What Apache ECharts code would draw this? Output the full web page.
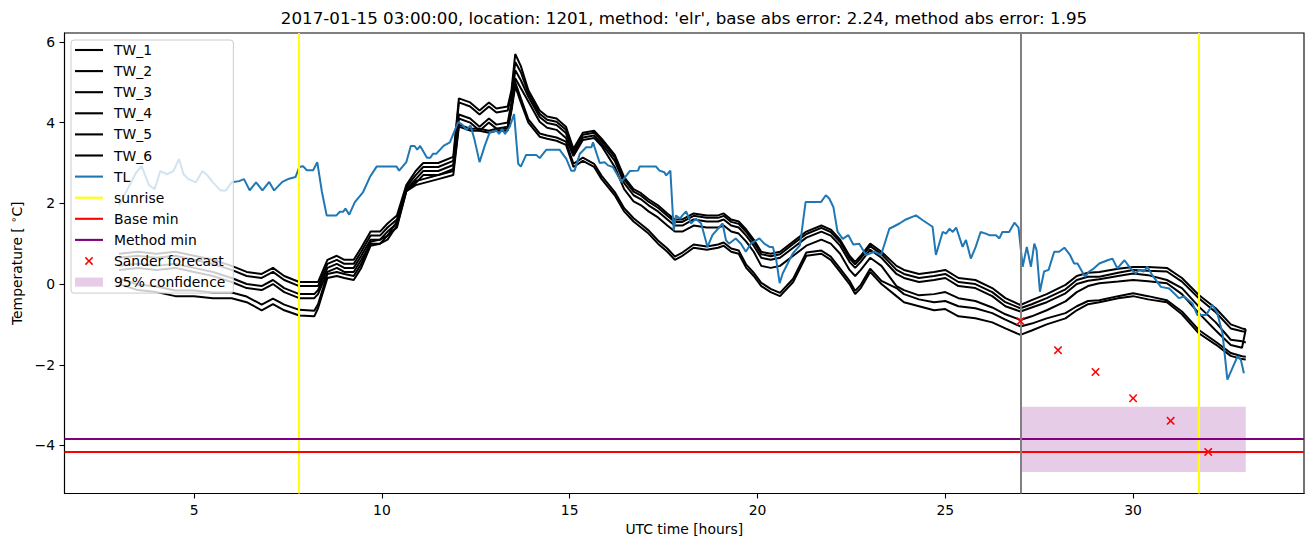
<!DOCTYPE html>
<html><head><meta charset="utf-8">
<script src="https://cdn.jsdelivr.net/npm/echarts@6/dist/echarts.min.js"></script>
<style>html,body{margin:0;padding:0;background:#fff}#c{width:1313px;height:547px}</style>
</head><body><div id="c"></div>
<script>
const titleText = "2017-01-15 03:00:00, location: 1201, method: 'elr', base abs error: 2.24, method abs error: 1.95";
const xTicks = [5, 10, 15, 20, 25, 30];
const yTicks = [-4, -2, 0, 2, 4, 6];

const twTime = [
  3.0, 3.5, 4.0, 4.5, 5.0, 5.5, 6.0, 6.4, 6.8, 7.1,
  7.4, 7.8, 8.2, 8.3, 8.55, 8.8, 9.0, 9.25, 9.45, 9.7,
  9.95, 10.15, 10.4, 10.65, 10.9, 11.1, 11.5, 11.9, 12.05, 12.35,
  12.6, 12.85, 13.05, 13.35, 13.45, 13.55, 13.7, 13.9, 14.2, 14.4,
  14.65, 14.9, 15.1, 15.35, 15.65, 15.85, 16.2, 16.45, 16.7, 16.9,
  17.1, 17.35, 17.6, 17.8, 18.0, 18.3, 18.65, 18.95, 19.1, 19.3,
  19.5, 19.7, 19.9, 20.1, 20.35, 20.6, 20.95, 21.3, 21.7, 21.95,
  22.2, 22.45, 22.6, 22.75, 23.0, 23.3, 23.7, 23.9, 24.3, 24.7,
  25.0, 25.35, 25.8, 26.25, 26.6, 27.0, 27.3, 27.7, 28.2, 28.5,
  28.8, 29.1, 29.6, 30.0, 30.4, 30.9, 31.3, 31.75, 32.2, 32.6,
  32.9, 33.0];

const tw1 = [
  0.75, 0.8, 0.75, 0.8, 0.7, 0.6, 0.45, 0.3, 0.25, 0.4,
  0.2, 0.05, 0.05, 0.05, 0.6, 0.7, 0.6, 0.6, 0.9, 1.3,
  1.3, 1.5, 1.7, 2.45, 2.8, 3.0, 3.0, 3.15, 4.6, 4.5,
  4.3, 4.5, 4.35, 4.4, 4.8, 5.7, 5.4, 4.8, 4.3, 4.15,
  4.1, 3.9, 3.35, 3.75, 3.8, 3.6, 3.2, 2.65, 2.35, 2.25,
  2.1, 1.95, 1.75, 1.6, 1.6, 1.75, 1.7, 1.7, 1.75, 1.6,
  1.55, 1.35, 1.1, 0.8, 0.75, 0.8, 1.05, 1.3, 1.45, 1.35,
  1.1, 0.7, 0.55, 0.7, 1.0, 0.8, 0.45, 0.35, 0.25, 0.3,
  0.35, 0.15, 0.1, -0.1, -0.35, -0.52, -0.4, -0.25, -0.02, 0.2,
  0.28, 0.3, 0.38, 0.42, 0.42, 0.4, 0.15, -0.27, -0.6, -1.0,
  -1.1, -1.12];
const tw2 = [
  0.65, 0.7, 0.65, 0.7, 0.6, 0.5, 0.35, 0.2, 0.15, 0.3,
  0.1, -0.05, -0.05, -0.05, 0.5, 0.6, 0.5, 0.5, 0.8, 1.2,
  1.2, 1.4, 1.6, 2.4, 2.7, 2.9, 2.9, 3.05, 4.5, 4.4,
  4.2, 4.4, 4.25, 4.3, 4.7, 5.5, 5.25, 4.72, 4.22, 4.07,
  4.02, 3.82, 3.3, 3.7, 3.75, 3.55, 3.14, 2.59, 2.29, 2.19,
  2.04, 1.89, 1.69, 1.54, 1.54, 1.69, 1.64, 1.64, 1.69, 1.54,
  1.49, 1.29, 1.04, 0.74, 0.69, 0.74, 0.99, 1.24, 1.39, 1.29,
  1.04, 0.64, 0.49, 0.64, 0.94, 0.74, 0.35, 0.25, 0.15, 0.2,
  0.25, 0.05, 0.0, -0.2, -0.45, -0.6, -0.5, -0.35, -0.13, 0.1,
  0.18, 0.18, 0.28, 0.35, 0.33, 0.31, 0.06, -0.35, -0.7, -1.1,
  -1.17, -1.18];
const tw3 = [
  0.45, 0.5, 0.45, 0.5, 0.4, 0.3, 0.15, 0.0, -0.05, 0.1,
  -0.1, -0.25, -0.25, -0.15, 0.4, 0.5, 0.4, 0.4, 0.7, 1.1,
  1.1, 1.3, 1.5, 2.35, 2.6, 2.8, 2.8, 2.95, 4.2, 4.1,
  3.9, 4.1, 3.95, 4.0, 4.5, 5.3, 5.05, 4.64, 4.14, 3.99,
  3.94, 3.74, 3.23, 3.63, 3.68, 3.48, 3.05, 2.5, 2.2, 2.1,
  1.95, 1.8, 1.6, 1.45, 1.45, 1.6, 1.55, 1.55, 1.6, 1.45,
  1.4, 1.2, 0.95, 0.65, 0.6, 0.65, 0.9, 1.15, 1.3, 1.2,
  0.95, 0.55, 0.4, 0.55, 0.85, 0.65, 0.25, 0.15, 0.05, 0.1,
  0.15, -0.05, -0.1, -0.3, -0.55, -0.68, -0.58, -0.45, -0.23, 0.0,
  0.08, 0.12, 0.2, 0.26, 0.22, 0.1, -0.1, -0.56, -0.95, -1.38,
  -1.42, -1.45];
const tw4 = [
  0.35, 0.4, 0.35, 0.4, 0.3, 0.2, 0.05, -0.1, -0.15, 0.0,
  -0.2, -0.35, -0.35, -0.25, 0.3, 0.4, 0.3, 0.3, 0.6, 1.0,
  1.0, 1.2, 1.4, 2.3, 2.5, 2.7, 2.7, 2.85, 4.1, 4.0,
  3.8, 4.0, 3.85, 3.9, 4.4, 5.1, 4.85, 4.52, 4.02, 3.87,
  3.82, 3.62, 3.17, 3.57, 3.62, 3.42, 2.9, 2.35, 2.05, 1.95,
  1.8, 1.65, 1.45, 1.3, 1.3, 1.45, 1.4, 1.4, 1.45, 1.3,
  1.25, 1.05, 0.8, 0.45, 0.4, 0.45, 0.7, 0.95, 1.1, 1.0,
  0.75, 0.35, 0.2, 0.35, 0.65, 0.45, -0.05, -0.15, -0.28, -0.25,
  -0.2, -0.35, -0.42, -0.58, -0.75, -0.89, -0.8, -0.65, -0.43, -0.2,
  -0.05, 0.02, 0.06, 0.1, 0.07, 0.02, -0.25, -0.72, -1.15, -1.51,
  -1.58, -1.12];
const tw5 = [
  0.14, -0.01, -0.06, -0.16, -0.16, -0.21, -0.21, -0.31, -0.51, -0.36,
  -0.51, -0.64, -0.66, -0.5, 0.25, 0.3, 0.25, 0.2, 0.5, 1.05,
  1.1, 1.2, 1.55, 2.35, 2.55, 2.6, 2.7, 2.8, 3.95, 3.85,
  3.85, 3.8, 3.85, 3.85, 4.35, 5.0, 4.6, 4.08, 3.73, 3.68,
  3.63, 3.53, 2.98, 3.13, 2.98, 2.68, 2.28, 1.88, 1.63, 1.48,
  1.33, 1.08, 0.88, 0.68, 0.78, 0.98, 0.93, 0.98, 1.03, 0.88,
  0.83, 0.48, 0.28, 0.03, -0.12, -0.22, 0.13, 0.78, 0.83, 0.68,
  0.38, 0.08, -0.17, -0.02, 0.38, 0.08, -0.1, -0.25, -0.38, -0.45,
  -0.42, -0.55, -0.6, -0.72, -0.88, -1.05, -0.98, -0.85, -0.72, -0.55,
  -0.42, -0.4, -0.3, -0.23, -0.3, -0.4, -0.68, -1.14, -1.43, -1.71,
  -1.79, -1.8];
const tw6 = [
  0.0, -0.15, -0.2, -0.3, -0.3, -0.35, -0.35, -0.45, -0.65, -0.5,
  -0.65, -0.78, -0.8, -0.6, 0.15, 0.2, 0.15, 0.1, 0.4, 0.95,
  1.0, 1.1, 1.45, 2.3, 2.45, 2.5, 2.6, 2.7, 3.9, 3.8,
  3.8, 3.75, 3.8, 3.8, 4.3, 4.9, 4.5, 4.0, 3.65, 3.6,
  3.55, 3.45, 2.9, 3.05, 2.9, 2.6, 2.2, 1.8, 1.55, 1.4,
  1.25, 1.0, 0.8, 0.6, 0.7, 0.9, 0.85, 0.9, 0.95, 0.8,
  0.75, 0.4, 0.2, -0.05, -0.2, -0.3, 0.05, 0.7, 0.75, 0.6,
  0.3, 0.0, -0.25, -0.1, 0.3, 0.0, -0.3, -0.45, -0.55, -0.65,
  -0.62, -0.8, -0.85, -0.95, -1.1, -1.26, -1.15, -1.0, -0.85, -0.65,
  -0.5, -0.45, -0.35, -0.3, -0.38, -0.45, -0.75, -1.22, -1.5, -1.78,
  -1.86, -1.87];

const tlPoints = [
  [3.0,1.95],[3.2,2.3],[3.45,2.75],[3.6,2.92],[3.8,2.45],[3.95,2.35],[4.1,2.8],[4.28,2.72],[4.45,2.8],[4.6,3.1],
  [4.72,2.72],[4.85,2.6],[5.05,2.52],[5.22,2.8],[5.35,2.7],[5.5,2.52],[5.7,2.32],[5.85,2.32],[6.0,2.52],[6.2,2.55],
  [6.33,2.6],[6.48,2.32],[6.65,2.52],[6.82,2.32],[7.0,2.53],[7.13,2.32],[7.35,2.53],[7.53,2.61],[7.7,2.65],[7.8,2.9],
  [7.9,2.92],[8.0,2.82],[8.17,2.82],[8.28,3.02],[8.4,2.3],[8.53,1.7],[8.79,1.7],[8.88,1.79],[8.97,1.79],[9.03,1.87],
  [9.13,1.72],[9.28,2.03],[9.5,2.28],[9.68,2.65],[9.86,2.91],[10.39,2.91],[10.46,2.81],[10.65,3.02],[10.77,3.42],[10.87,3.42],
  [10.94,3.33],[11.02,3.42],[11.2,3.13],[11.29,3.13],[11.36,3.23],[11.45,3.23],[11.65,3.43],[11.81,3.51],[12.03,4.01],[12.14,3.95],
  [12.25,3.82],[12.36,3.93],[12.47,3.56],[12.6,3.02],[12.74,3.43],[12.87,3.76],[13.05,3.8],[13.12,3.72],[13.2,3.84],[13.28,3.72],
  [13.4,3.89],[13.52,4.21],[13.63,2.98],[13.7,2.91],[13.84,3.2],[14.11,3.2],[14.2,3.12],[14.38,3.33],[14.73,3.33],[14.91,3.1],
  [15.04,2.81],[15.13,2.81],[15.27,3.23],[15.44,3.39],[15.58,3.39],[15.62,3.51],[15.8,3.0],[15.93,3.02],[16.02,2.94],[16.15,2.9],
  [16.38,2.53],[16.6,2.8],[16.82,2.81],[16.86,2.91],[17.3,2.91],[17.39,2.81],[17.52,2.77],[17.57,2.69],[17.68,2.81],[17.77,1.33],
  [17.83,1.7],[17.94,1.62],[18.0,1.7],[18.1,1.8],[18.23,1.5],[18.36,1.62],[18.5,1.5],[18.67,0.92],[18.8,1.21],[19.07,1.5],
  [19.16,1.09],[19.24,1.0],[19.42,1.13],[19.56,1.0],[19.69,0.8],[19.82,1.0],[20.05,1.13],[20.18,1.0],[20.32,0.92],[20.41,0.92],
  [20.5,0.59],[20.59,0.02],[20.67,0.26],[20.94,0.76],[21.13,0.96],[21.28,2.03],[21.69,2.03],[21.82,2.2],[21.91,2.12],[22.02,1.91],
  [22.13,1.3],[22.27,1.12],[22.42,1.21],[22.55,0.98],[22.71,1.0],[22.89,0.72],[23.11,0.8],[23.29,0.72],[23.51,1.37],[23.78,1.5],
  [23.95,1.6],[24.22,1.7],[24.4,1.58],[24.66,1.42],[24.75,0.72],[24.93,1.29],[25.02,1.25],[25.11,1.37],[25.2,1.29],[25.29,1.4],
  [25.46,0.92],[25.55,1.09],[25.68,0.63],[25.81,0.92],[25.94,1.29],[26.08,1.25],[26.17,1.21],[26.35,1.21],[26.44,1.13],[26.52,1.29],
  [26.7,1.29],[26.84,1.52],[26.95,1.4],[27.06,0.43],[27.17,0.92],[27.28,0.43],[27.37,1.0],[27.43,0.84],[27.52,-0.19],[27.63,0.31],
  [27.75,0.35],[27.9,0.8],[28.03,0.8],[28.17,0.9],[28.32,0.72],[28.43,0.51],[28.52,0.51],[28.72,0.18],[28.83,0.31],[28.96,0.39],
  [29.1,0.51],[29.32,0.59],[29.45,0.63],[29.58,0.39],[29.77,0.59],[29.93,0.39],[30.07,0.26],[30.16,0.35],[30.29,0.31],[30.38,0.43],
  [30.51,0.22],[30.74,-0.07],[30.96,-0.11],[31.22,-0.35],[31.36,-0.31],[31.58,-0.48],[31.71,-0.77],[31.94,-0.77],[32.11,-0.52],[32.24,-0.72],
  [32.38,-1.22],[32.51,-2.37],[32.78,-1.79],[32.87,-1.88],[32.95,-2.21]];

const sunriseTimes = [7.79, 31.76];
const forecastTime = [27.0];
const baseMin = [-4.15];
const methodMin = [-3.84];
const sanderTime = [27, 28, 29, 30, 31, 32];
const sanderValues = [-0.92, -1.64, -2.18, -2.83, -3.39, -4.16];
const confTime = [27.0, 33.0];
const confRange = [-4.66, -3.04];

const FONT = 'DejaVu Sans';
const lineIcon = 'path://M0,0H28V2.1H0Z';
const xIcon = 'path://M0,0L0.01,0L0,0.01Z M28,14L27.99,14L28,13.99Z M9.85,3.95L10.95,2.85L14,5.9L17.05,2.85L18.15,3.95L15.1,7L18.15,10.05L17.05,11.15L14,8.1L10.95,11.15L9.85,10.05L12.9,7Z';
const xSymbol = 'path://M0,1.3L1.3,0L5,3.7L8.7,0L10,1.3L6.3,5L10,8.7L8.7,10L5,6.3L1.3,10L0,8.7L3.7,5Z';
const rectIcon = 'path://M0,0H28V9H0Z';

const twAll = [tw1, tw2, tw3, tw4, tw5, tw6];
const series = [];
twAll.forEach((arr, k) => {
  series.push({
    name: 'TW_' + (k + 1), type: 'line', showSymbol: false, symbol: 'none',
    data: twTime.map((t, i) => [t, arr[i]]),
    lineStyle: {color: '#000000', width: 2}, itemStyle: {color: '#000000'}, z: 2, silent: true
  });
});
series.push({
  name: 'TL', type: 'line', showSymbol: false, symbol: 'none', data: tlPoints,
  lineStyle: {color: '#1f77b4', width: 2}, itemStyle: {color: '#1f77b4'}, z: 3, silent: true
});
function mlSeries(name, color, items, z) {
  return {
    name: name, type: 'line', data: [], z: z, silent: true,
    itemStyle: {color: color}, lineStyle: {color: color, width: 2},
    markLine: {silent: true, symbol: ['none', 'none'], label: {show: false}, animation: false,
      lineStyle: {color: color, width: 2, type: 'solid'}, emphasis: {disabled: true}, data: items}
  };
}
series.push(mlSeries('sunrise', '#ffff00', sunriseTimes.map(v => ({xAxis: v})), 4));
series.push(mlSeries('Base min', '#ff0000', baseMin.map(v => ({yAxis: v})), 4));
series.push(mlSeries('Method min', '#800080', methodMin.map(v => ({yAxis: v})), 4));
series.push(mlSeries('forecast time', '#808080', forecastTime.map(v => ({xAxis: v})), 4));
series.push({
  name: 'Sander forecast', type: 'scatter', symbol: xSymbol, symbolSize: 8.5, z: 6, silent: true,
  data: sanderTime.map((t, i) => [t, sanderValues[i]]),
  itemStyle: {color: '#ff0000', opacity: 1}
});
series.push({
  name: '95% confidence', type: 'line', data: [], z: 1, silent: true,
  itemStyle: {color: 'rgba(128,0,128,0.2)'}, lineStyle: {color: 'rgba(128,0,128,0.2)'},
  markArea: {silent: true, itemStyle: {color: 'rgba(128,0,128,0.2)'}, label: {show: false},
    data: [[{xAxis: confTime[0], yAxis: confRange[1]}, {xAxis: confTime[1], yAxis: confRange[0]}]]}
});

const legendNames = ['TW_1','TW_2','TW_3','TW_4','TW_5','TW_6','TL','sunrise','Base min','Method min','Sander forecast','95% confidence'];
const legendData = legendNames.map(n => {
  let icon = lineIcon;
  if (n === 'Sander forecast') icon = xIcon;
  if (n === '95% confidence') icon = rectIcon;
  return {name: n, icon: icon};
});

const chart = echarts.init(document.getElementById('c'), null, {renderer: 'svg', width: 1313, height: 547});
chart.setOption({
  animation: false,
  backgroundColor: '#ffffff',
  textStyle: {fontFamily: FONT},
  grid: {left: 64.5, right: 9, top: 33, bottom: 53.5, show: true, borderColor: '#000', borderWidth: 1.1, backgroundColor: 'transparent'},
  graphic: [{
    type: 'text', x: 684, y: 18, silent: true,
    style: {text: titleText, font: '16.7px "DejaVu Sans"', fill: '#000', align: 'center', verticalAlign: 'middle'}
  }],
  legend: {
    data: legendData, orient: 'vertical', left: 71, top: 40, selectedMode: false,
    itemWidth: 28, itemHeight: 14, itemGap: 7.1, padding: [3, 8, 4, 4], symbolKeepAspect: true,
    backgroundColor: 'rgba(255,255,255,0.8)', borderColor: '#cccccc', borderWidth: 1, borderRadius: 3,
    itemStyle: {borderWidth: 0}, lineStyle: {width: 0},
    textStyle: {fontFamily: FONT, fontSize: 13.9, color: '#000', padding: [0, 0, 0, 6]}, z: 10
  },
  xAxis: {
    type: 'value', min: 1.55, max: 34.55,
    name: 'UTC time [hours]', nameLocation: 'middle', nameGap: 27,
    nameTextStyle: {fontFamily: FONT, fontSize: 13.9, color: '#000'},
    axisLine: {show: true, onZero: false, lineStyle: {color: '#000', width: 1.1}},
    axisTick: {show: true, length: 5, customValues: xTicks, lineStyle: {color: '#000', width: 1.1}},
    axisLabel: {customValues: xTicks, margin: 9.5, fontFamily: FONT, fontSize: 13.9, color: '#000'},
    splitLine: {show: false}
  },
  yAxis: {
    type: 'value', min: -5.19, max: 6.22,
    name: 'Temperature [ {sup|∘}C]', nameLocation: 'middle', nameGap: 37,
    nameTextStyle: {fontFamily: FONT, fontSize: 13.9, color: '#000',
      rich: {sup: {fontFamily: FONT, fontSize: 10, color: '#000', verticalAlign: 'top', padding: [0, 0, 6, 0]}}},
    axisLine: {show: true, onZero: false, lineStyle: {color: '#000', width: 1.1}},
    axisTick: {show: true, length: 5, customValues: yTicks, lineStyle: {color: '#000', width: 1.1}},
    axisLabel: {customValues: yTicks, margin: 9.5, fontFamily: FONT, fontSize: 13.9, color: '#000',
      formatter: v => String(v).replace('-', '\u2212')},
    splitLine: {show: false}
  },
  series: series
});
</script></body></html>
